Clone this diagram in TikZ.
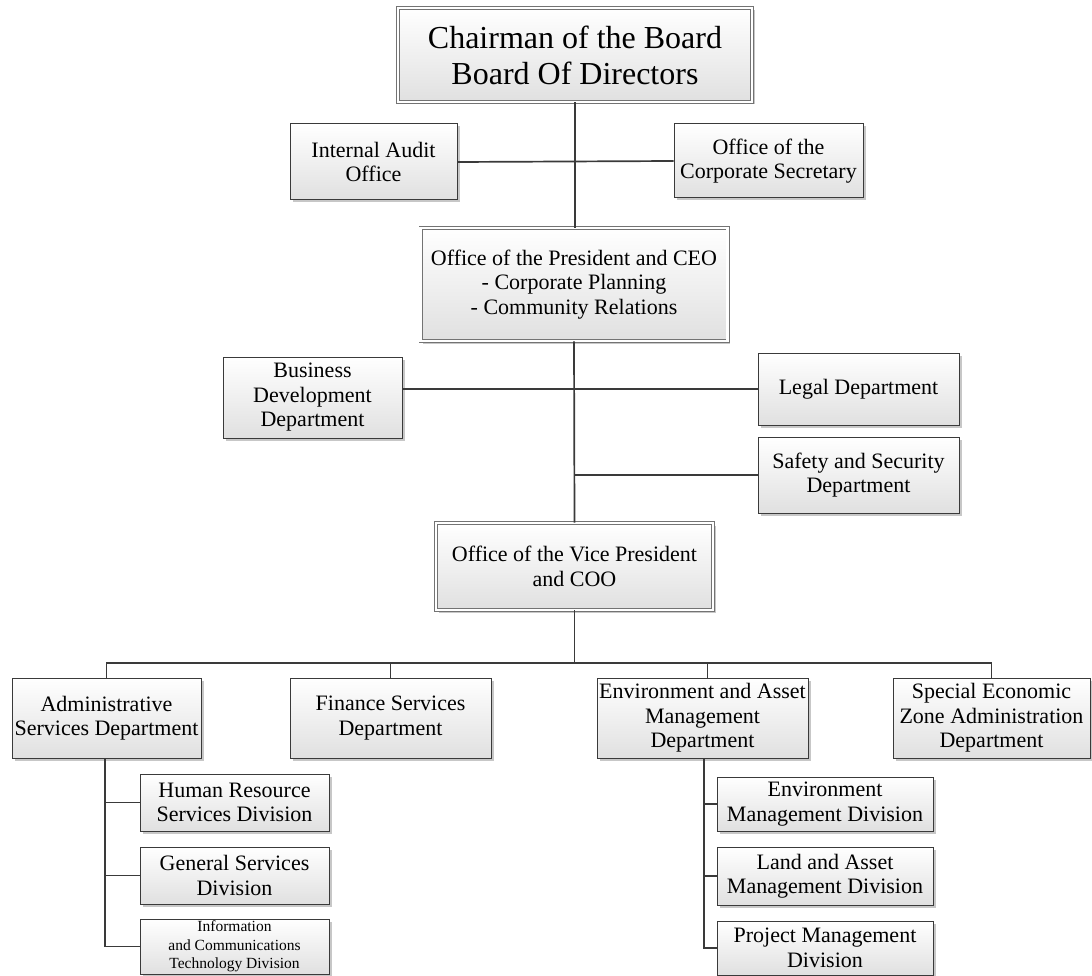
\documentclass[tikz,border=0pt]{standalone}
\usepackage{fontspec}
\setmainfont{Liberation Serif}
\usetikzlibrary{shadows}
\definecolor{edge}{HTML}{3A3A3A}
\definecolor{boxbot}{HTML}{E0E0E0}
\tikzset{
  box/.style={draw=edge, line width=1pt, top color=white, bottom color=boxbot,
    drop shadow={shadow xshift=2.5pt, shadow yshift=-2.5pt, fill=black!22, opacity=1},
    align=center, inner sep=1pt, font=\fontsize{22}{24.5}\selectfont},
  dbox/.style={box, draw=black!55, line width=0.9pt, double=white, double distance=2.2pt},
  link/.style={draw=edge, line width=1.7pt}
}
\begin{document}
\begin{tikzpicture}[x=1pt,y=-1pt]
\useasboundingbox (0,0) rectangle (1092,976);
% top levels
\node[dbox, minimum width=354, minimum height=94, font=\fontsize{32}{36}\selectfont] (chair) at (575,55) {Chairman of the Board\\Board Of Directors};
\node[box, minimum width=167, minimum height=76] (audit) at (373.5,162) {Internal Audit\\Office};
\node[box, minimum width=189, minimum height=74] (corpsec) at (768.5,161) {Office of the\\Corporate Secretary};
\node[dbox, minimum width=307, minimum height=113] (pres) at (574,284.5) {Office of the President and CEO\\- Corporate Planning\\- Community Relations};
\node[box, minimum width=179, minimum height=81] (busdev) at (312.5,397.5) {Business\\Development\\Department};
\node[box, minimum width=201, minimum height=72] (legal) at (858.5,389) {Legal Department};
\node[box, minimum width=201, minimum height=76] (safety) at (858.5,475) {Safety and Security\\Department};
\node[dbox, minimum width=277, minimum height=87] (vp) at (574.5,566.5) {Office of the Vice President\\and COO};
% departments
\node[box, minimum width=189, minimum height=80] (admin) at (106.5,718) {Administrative\\Services Department};
\node[box, minimum width=201, minimum height=80] (finance) at (390.5,718) {Finance Services\\Department};
\node[box, minimum width=211, minimum height=80] (env) at (702.5,718) {Environment and Asset\\Management\\Department};
\node[box, minimum width=197, minimum height=80] (sez) at (991.5,718) {Special Economic\\Zone Administration\\Department};
% admin divisions
\node[box, minimum width=189, minimum height=57] (hr) at (234.5,802.5) {Human Resource\\Services Division};
\node[box, minimum width=189, minimum height=57] (gs) at (234.5,875.5) {General Services\\Division};
\node[box, minimum width=189, minimum height=55, font=\fontsize{15.5}{18.5}\selectfont] (ict) at (234.5,946.5) {Information\\and Communications\\Technology Division};
% env divisions
\node[box, minimum width=216, minimum height=54] (envm) at (825,804) {Environment\\Management Division};
\node[box, minimum width=216, minimum height=58] (land) at (825,876) {Land and Asset\\Management Division};
\node[box, minimum width=216, minimum height=54] (proj) at (825,948) {Project Management\\Division};
% connectors
\coordinate (bus) at (574.5,663);
\draw[link] (chair.south) -- (chair.south |- pres.north);
\draw[link] (pres.south) -- (vp.north);
\draw[link] (audit.east) -- (corpsec.west);
\draw[link] (legal.west) -- (legal.west -| busdev.east);
\draw[link] (safety.west) -- (safety.west -| pres.south);
\draw[link] (vp.south) -- (bus);
\draw[link] (admin.north) |- (bus) -| (sez.north);
\draw[link] (finance.north) -- (finance.north |- bus);
\draw[link] ([xshift=5pt]env.north) -- ([xshift=5pt]env.north |- bus);
\draw[link] ([xshift=-1.5pt]admin.south) |- (hr.west);
\draw[link] ([xshift=-1.5pt]admin.south) |- (gs.west);
\draw[link] ([xshift=-1.5pt]admin.south) |- (ict.west);
\draw[link] ([xshift=1.5pt]env.south) |- (envm.west);
\draw[link] ([xshift=1.5pt]env.south) |- (land.west);
\draw[link] ([xshift=1.5pt]env.south) |- (proj.west);
\end{tikzpicture}
\end{document}
